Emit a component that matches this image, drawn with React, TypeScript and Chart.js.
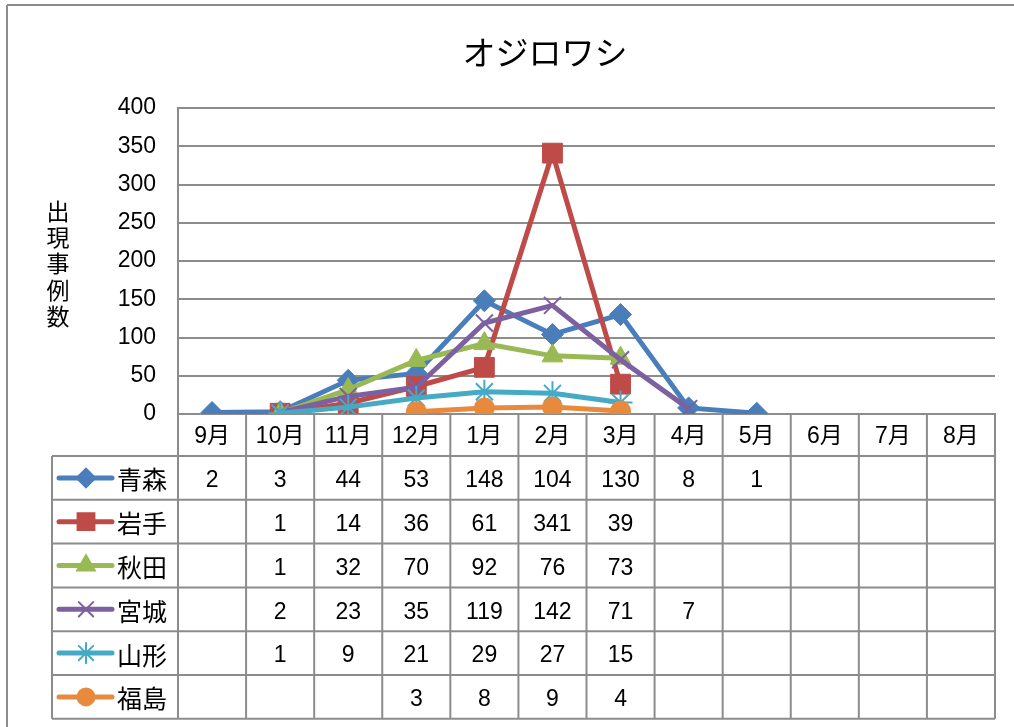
import { useEffect, useRef } from 'react';
import { Chart, registerables } from 'chart.js';
import { drawPoint } from 'chart.js/helpers';

Chart.register(...registerables);

const TITLE = 'オジロワシ';
const Y_TITLE = '出現事例数';
const MONTHS = ['9月', '10月', '11月', '12月', '1月', '2月', '3月', '4月', '5月', '6月', '7月', '8月'];
const SERIES_NAMES = ['青森', '岩手', '秋田', '宮城', '山形', '福島'];
const AOMORI = [2, 3, 44, 53, 148, 104, 130, 8, 1, null, null, null];
const IWATE = [null, 1, 14, 36, 61, 341, 39, null, null, null, null, null];
const AKITA = [null, 1, 32, 70, 92, 76, 73, null, null, null, null, null];
const MIYAGI = [null, 2, 23, 35, 119, 142, 71, 7, null, null, null, null];
const YAMAGATA = [null, 1, 9, 21, 29, 27, 15, null, null, null, null, null];
const FUKUSHIMA = [null, null, null, 3, 8, 9, 4, null, null, null, null, null];
const Y_MIN = 0;
const Y_MAX = 400;
const Y_STEP = 50;

const SERIES_VALUES = [AOMORI, IWATE, AKITA, MIYAGI, YAMAGATA, FUKUSHIMA];
const COLORS = ['#4a7ebb', '#be4b48', '#98b954', '#7d60a0', '#46aac5', '#e88a3e'];
const POINT_STYLES = ['rectRot', 'rect', 'triangle', 'crossRot', 'star', 'circle'];
const POINT_RADII = [11, 14, 12, 12, 12, 10];

const FONT = '"Liberation Sans", "Noto Sans CJK JP", sans-serif';
const JP_FONT = '"Noto Sans CJK JP", sans-serif';
const GRID = '#8c8c8c';

const tablePlugin = {
  id: 'tablePlugin',
  afterDraw(chart: any) {
    const ctx = chart.ctx as CanvasRenderingContext2D;
    const area = chart.chartArea;
    const xs = chart.scales.x;
    const colW = (area.right - area.left) / MONTHS.length;
    const headerBottom = area.bottom + 42;
    const rowH = 43.8;
    const tableLeft = 52;
    const tableBottom = headerBottom + rowH * SERIES_NAMES.length;
    const line = (x1: number, y1: number, x2: number, y2: number) => {
      ctx.beginPath();
      ctx.moveTo(x1, y1);
      ctx.lineTo(x2, y2);
      ctx.stroke();
    };
    ctx.save();
    ctx.strokeStyle = GRID;
    ctx.lineWidth = 2;
    // frame
    line(7, 5, 1014, 5);
    line(7, 5, 7, 727);
    // verticals
    for (let i = 0; i <= MONTHS.length; i++) {
      const bx = area.left + i * colW;
      line(bx, area.bottom, bx, tableBottom);
    }
    line(tableLeft, headerBottom, tableLeft, tableBottom);
    for (let r = 0; r <= SERIES_NAMES.length; r++) {
      const y = headerBottom + r * rowH;
      line(tableLeft, y, area.right, y);
    }

    // title
    ctx.fillStyle = '#000';
    ctx.textAlign = 'center';
    ctx.textBaseline = 'middle';
    ctx.font = `33px ${JP_FONT}`;
    ctx.fillText(TITLE, 545, 52);

    // y axis title (vertical)
    ctx.font = `23px ${JP_FONT}`;
    Array.from(Y_TITLE).forEach((ch, k) => {
      ctx.fillText(ch, 58, 211 + k * 26.3);
    });

    // rows
    SERIES_NAMES.forEach((name, r) => {
      const cy = headerBottom + r * rowH + rowH / 2;
      ctx.strokeStyle = COLORS[r];
      ctx.fillStyle = COLORS[r];
      ctx.lineWidth = 5;
      ctx.lineCap = 'round';
      line(59, cy, 112, cy);
      ctx.lineWidth = 2;
      drawPoint(ctx, { pointStyle: POINT_STYLES[r] as any, radius: POINT_RADII[r] * 0.85, rotation: 0, borderWidth: 2 }, 86, cy);
      ctx.fillStyle = '#000';
      ctx.textAlign = 'left';
      ctx.font = `25px ${JP_FONT}`;
      ctx.fillText(name, 117, cy + 2);
      ctx.textAlign = 'center';
      ctx.font = `23px ${FONT}`;
      SERIES_VALUES[r].forEach((v, i) => {
        if (v === null || v === undefined) return;
        ctx.fillText(String(v), xs.getPixelForValue(i), cy + 3);
      });
    });
    ctx.restore();
  },
};

export default function App() {
  const ref = useRef<HTMLCanvasElement>(null);
  useEffect(() => {
    document.body.style.margin = '0';
    const chart = new Chart(ref.current!, {
      type: 'line',
      data: {
        labels: MONTHS,
        datasets: SERIES_NAMES.map((name, i) => ({
          label: name,
          data: SERIES_VALUES[i],
          borderColor: COLORS[i],
          backgroundColor: COLORS[i],
          borderWidth: 5,
          pointStyle: POINT_STYLES[i] as any,
          pointRadius: POINT_RADII[i],
          pointBorderWidth: i === 3 || i === 4 ? 2 : 1,
          pointBorderColor: COLORS[i],
          pointBackgroundColor: COLORS[i],
          tension: 0,
          order: SERIES_NAMES.length - 1 - i,
          spanGaps: false,
        })),
      },
      options: {
        animation: false,
        responsive: false,
        layout: { padding: { left: 8, right: 19, top: 108, bottom: 271 } },
        plugins: {
          legend: { display: false },
          tooltip: { enabled: false },
          title: { display: false },
        },
        scales: {
          x: {
            type: 'category',
            offset: true,
            grid: { display: false, drawOnChartArea: false, drawTicks: false },
            border: { display: true, color: GRID, width: 2 },
            ticks: { color: '#000', font: { size: 23, family: FONT }, padding: 9, maxRotation: 0, autoSkip: false },
            afterFit: (s: any) => { s.height = 42; },
          },
          y: {
            min: Y_MIN,
            max: Y_MAX,
            ticks: { stepSize: Y_STEP, color: '#000', font: { size: 23, family: FONT }, padding: 22 },
            grid: { color: GRID, lineWidth: 2, drawTicks: false },
            border: { display: true, color: GRID, width: 2 },
            afterFit: (s: any) => { s.width = 170; },
          },
        },
      },
      plugins: [tablePlugin],
    });
    return () => chart.destroy();
  }, []);
  return (
    <div style={{ position: 'absolute', left: 0, top: 0, width: 1014, height: 727, background: '#fff' }}>
      <canvas ref={ref} width={1014} height={727} style={{ display: 'block' }} />
    </div>
  );
}
